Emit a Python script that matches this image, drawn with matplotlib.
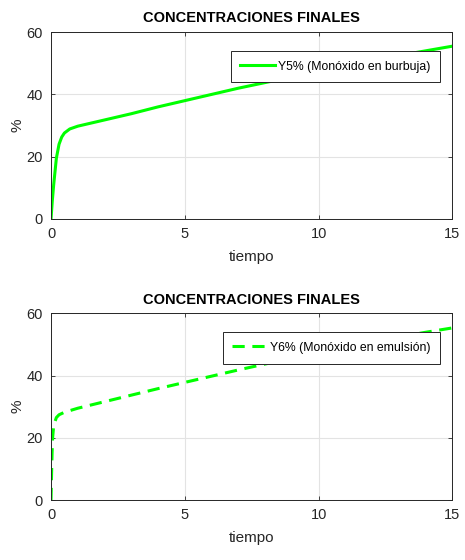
import matplotlib
matplotlib.use('Agg')
import matplotlib.pyplot as plt

plt.rcParams['font.family'] = ['Liberation Sans', 'DejaVu Sans']

# tiempo vs concentration (%)
t5 = [0, 0.05, 0.1, 0.2, 0.3, 0.4, 0.5, 0.7, 1.0, 2, 3, 4, 5, 6, 7, 8,
      9, 10, 11, 12, 13, 14, 15]
y5 = [0, 6, 11, 19.5, 24, 26.3, 27.6, 28.9, 29.8, 31.8, 33.8, 36, 38, 40,
      42, 43.8, 45.6, 47.4, 49.1, 50.8, 52.5, 54.0, 55.5]

t6 = [0, 0.02, 0.04, 0.06, 0.1, 0.2, 0.3, 0.5, 1.0, 2, 3, 4, 5, 6, 7, 8,
      9, 10, 11, 12, 13, 14, 15]
y6 = [0, 8, 15, 20, 24, 26.5, 27.4, 28.2, 29.5, 31.6, 33.7, 35.8, 37.8, 39.8,
      41.8, 43.7, 45.5, 47.3, 49.0, 50.7, 52.4, 53.9, 55.3]

xticks = [0, 5, 10, 15]
yticks = [0, 20, 40, 60]

fig = plt.figure(figsize=(4.65, 5.6), dpi=100)
ax1 = fig.add_axes([0.1097, 0.609, 0.8634, 0.3336])
ax2 = fig.add_axes([0.1097, 0.107, 0.8634, 0.3336])

series = [(ax1, t5, y5, '-', 'Y5% (Monóxido en burbuja)'),
          (ax2, t6, y6, '--', 'Y6% (Monóxido en emulsión)')]

for ax, t, y, ls, lab in series:
    ax.plot(t, y, color='#00ff00', linestyle=ls, linewidth=2.2, label=lab,
            dashes=(4, 2.5) if ls == '--' else (None, None))
    ax.set_xlim(0, 15)
    ax.set_ylim(0, 60)
    ax.set_xticks(xticks)
    ax.set_yticks(yticks)
    ax.grid(True, color='#e3e3e3', linewidth=0.8)
    ax.tick_params(direction='in', top=True, right=True, labelsize=10.5,
                   length=3, width=0.6, color='#262626', labelcolor='#262626', pad=6)
    for sp in ax.spines.values():
        sp.set_color('#262626')
        sp.set_linewidth(0.7)
    ax.set_title('CONCENTRACIONES FINALES', fontsize=10.5, fontweight='bold', pad=7)
    ax.set_xlabel('tiempo', fontsize=11, color='#262626', labelpad=6)
    ax.set_ylabel('%', fontsize=11, color='#262626', labelpad=1)
    leg = ax.legend(loc='upper right', bbox_to_anchor=(0.97, 0.90), borderaxespad=0,
                    fontsize=8.8, fancybox=False, framealpha=1, handlelength=2.8,
                    borderpad=0.8, handletextpad=0.3)
    leg.get_frame().set_edgecolor('#262626')
    leg.get_frame().set_linewidth(0.7)

fig.savefig('out.png', dpi=100)
